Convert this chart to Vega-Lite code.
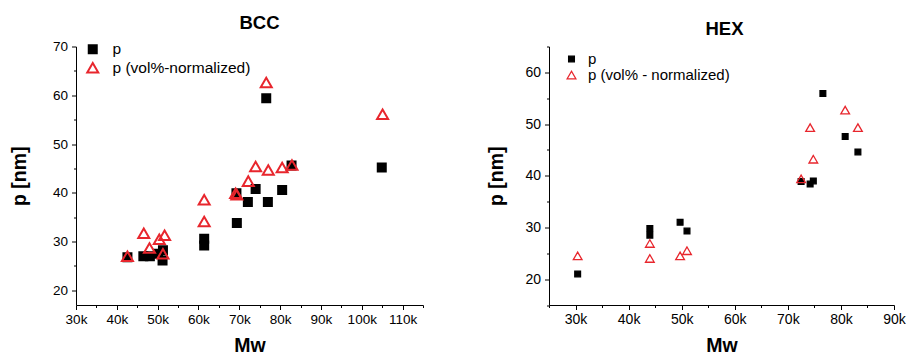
{
  "$schema": "https://vega.github.io/schema/vega-lite/v6.json",
  "padding": {"left": 9, "top": 13.5, "right": 0, "bottom": 0},
  "background": "white",
  "spacing": 62,
  "config": {
    "view": {"stroke": null},
    "font": "Liberation Sans",
    "axis": {"grid": false, "labelFont": "Liberation Sans", "labelFontSize": 13.5, "labelColor": "#000", "tickColor": "#000", "domainColor": "#000", "titleFont": "Liberation Sans", "titleFontSize": 19.5, "titleFontWeight": "bold", "titleColor": "#000", "labelPadding": 3, "labelFlush": false},
    "title": {"font": "Liberation Sans", "fontSize": 18.5, "fontWeight": "bold", "color": "#000", "anchor": "middle"},
    "legend": {"labelFont": "Liberation Sans", "labelColor": "#000", "padding": 0}
  },
  "datasets": {
    "bcc": [
      {"Mw": 42600, "p": 26.8, "series": "p"},
      {"Mw": 46500, "p": 27.0, "series": "p"},
      {"Mw": 48100, "p": 27.0, "series": "p"},
      {"Mw": 50100, "p": 27.5, "series": "p"},
      {"Mw": 51300, "p": 28.2, "series": "p"},
      {"Mw": 51200, "p": 26.1, "series": "p"},
      {"Mw": 61400, "p": 30.6, "series": "p"},
      {"Mw": 61400, "p": 29.2, "series": "p"},
      {"Mw": 69300, "p": 39.9, "series": "p"},
      {"Mw": 69400, "p": 33.8, "series": "p"},
      {"Mw": 72100, "p": 38.1, "series": "p"},
      {"Mw": 74000, "p": 40.8, "series": "p"},
      {"Mw": 76600, "p": 59.4, "series": "p"},
      {"Mw": 77000, "p": 38.1, "series": "p"},
      {"Mw": 80500, "p": 40.6, "series": "p"},
      {"Mw": 82800, "p": 45.6, "series": "p"},
      {"Mw": 104900, "p": 45.2, "series": "p"},
      {"Mw": 42600, "p": 27.0, "series": "p (vol%-normalized)"},
      {"Mw": 46600, "p": 31.7, "series": "p (vol%-normalized)"},
      {"Mw": 48000, "p": 28.7, "series": "p (vol%-normalized)"},
      {"Mw": 50400, "p": 30.5, "series": "p (vol%-normalized)"},
      {"Mw": 51700, "p": 31.3, "series": "p (vol%-normalized)"},
      {"Mw": 51300, "p": 27.5, "series": "p (vol%-normalized)"},
      {"Mw": 61400, "p": 38.6, "series": "p (vol%-normalized)"},
      {"Mw": 61400, "p": 34.1, "series": "p (vol%-normalized)"},
      {"Mw": 69100, "p": 39.9, "series": "p (vol%-normalized)"},
      {"Mw": 69400, "p": 39.6, "series": "p (vol%-normalized)"},
      {"Mw": 72200, "p": 42.4, "series": "p (vol%-normalized)"},
      {"Mw": 74000, "p": 45.4, "series": "p (vol%-normalized)"},
      {"Mw": 76600, "p": 62.6, "series": "p (vol%-normalized)"},
      {"Mw": 77100, "p": 44.7, "series": "p (vol%-normalized)"},
      {"Mw": 80500, "p": 45.2, "series": "p (vol%-normalized)"},
      {"Mw": 82900, "p": 45.7, "series": "p (vol%-normalized)"},
      {"Mw": 105100, "p": 56.1, "series": "p (vol%-normalized)"}
    ],
    "hex": [
      {"Mw": 30400, "p": 21.0, "series": "p"},
      {"Mw": 44000, "p": 29.8, "series": "p"},
      {"Mw": 44000, "p": 28.5, "series": "p"},
      {"Mw": 49700, "p": 31.0, "series": "p"},
      {"Mw": 51000, "p": 29.3, "series": "p"},
      {"Mw": 72500, "p": 38.9, "series": "p"},
      {"Mw": 74200, "p": 38.4, "series": "p"},
      {"Mw": 74800, "p": 39.0, "series": "p"},
      {"Mw": 76600, "p": 55.9, "series": "p"},
      {"Mw": 80800, "p": 47.6, "series": "p"},
      {"Mw": 83200, "p": 44.6, "series": "p"},
      {"Mw": 30400, "p": 24.5, "series": "p (vol% - normalized)"},
      {"Mw": 44000, "p": 26.9, "series": "p (vol% - normalized)"},
      {"Mw": 44000, "p": 24.0, "series": "p (vol% - normalized)"},
      {"Mw": 49700, "p": 24.5, "series": "p (vol% - normalized)"},
      {"Mw": 51000, "p": 25.5, "series": "p (vol% - normalized)"},
      {"Mw": 72500, "p": 39.4, "series": "p (vol% - normalized)"},
      {"Mw": 74200, "p": 49.3, "series": "p (vol% - normalized)"},
      {"Mw": 74800, "p": 43.2, "series": "p (vol% - normalized)"},
      {"Mw": 80800, "p": 52.7, "series": "p (vol% - normalized)"},
      {"Mw": 83200, "p": 49.3, "series": "p (vol% - normalized)"}
    ]
  },
  "hconcat": [
    {
      "title": {"text": "BCC", "offset": 7, "dx": 10},
      "width": 347,
      "height": 258.5,
      "data": {"name": "bcc"},
      "layer": [
        {
          "mark": {"type": "point", "opacity": 0},
          "encoding": {
            "x": {"field": "Mw", "type": "quantitative", "scale": {"domain": [30000, 115000], "nice": false, "zero": false}, "axis": {"orient": "bottom", "values": [35000, 45000, 55000, 65000, 75000, 85000, 95000, 105000, 115000], "labels": false, "domain": false, "tickSize": 2.5, "title": null}},
            "y": {"field": "p", "type": "quantitative", "scale": {"domain": [17, 70], "nice": false, "zero": false}, "axis": {"orient": "left", "values": [25, 35, 45, 55, 65], "labels": false, "domain": false, "tickSize": 2.5, "title": null}}
          }
        },
        {
          "mark": {"type": "point", "opacity": 1, "strokeWidth": 2},
          "encoding": {
            "x": {"field": "Mw", "type": "quantitative", "scale": {"domain": [30000, 115000], "nice": false, "zero": false}, "axis": {"orient": "bottom", "values": [30000, 40000, 50000, 60000, 70000, 80000, 90000, 100000, 110000], "format": "~s", "tickSize": 4.5, "labelFontSize": 13.5, "labelFlush": false, "title": "Mᴡ", "titlePadding": 10}},
            "y": {"field": "p", "type": "quantitative", "scale": {"domain": [17, 70], "nice": false, "zero": false}, "axis": {"orient": "left", "values": [20, 30, 40, 50, 60, 70], "tickSize": 4.5, "labelPadding": 4, "labelFontSize": 13.5, "title": "p [nm]", "titlePadding": 23}},
            "shape": {"field": "series", "type": "nominal", "scale": {"domain": ["p", "p (vol%-normalized)"], "range": ["square", "triangle-up"]}, "legend": {"title": null, "orient": "none", "legendX": 9, "legendY": -5, "labelFontSize": 15.5, "labelOffset": 12, "rowPadding": -0.5, "symbolStrokeWidth": 2}},
            "fill": {"field": "series", "type": "nominal", "scale": {"domain": ["p", "p (vol%-normalized)"], "range": ["#000000", "transparent"]}, "legend": {"title": null, "orient": "none", "legendX": 9, "legendY": -5, "labelFontSize": 15.5, "labelOffset": 12, "rowPadding": -0.5, "symbolStrokeWidth": 2}},
            "stroke": {"field": "series", "type": "nominal", "scale": {"domain": ["p", "p (vol%-normalized)"], "range": ["#000000", "#e8262d"]}, "legend": {"title": null, "orient": "none", "legendX": 9, "legendY": -5, "labelFontSize": 15.5, "labelOffset": 12, "rowPadding": -0.5, "symbolStrokeWidth": 2}},
            "size": {"field": "series", "type": "nominal", "scale": {"domain": ["p", "p (vol%-normalized)"], "range": [64, 121]}, "legend": {"title": null, "orient": "none", "legendX": 9, "legendY": -5, "labelFontSize": 15.5, "labelOffset": 12, "rowPadding": -0.5, "symbolStrokeWidth": 2}}
          }
        }
      ],
      "resolve": {"axis": {"x": "independent", "y": "independent"}}
    },
    {
      "title": {"text": "HEX", "offset": 8, "dx": 3},
      "width": 345,
      "height": 258.5,
      "data": {"name": "hex"},
      "layer": [
        {
          "mark": {"type": "point", "opacity": 0},
          "encoding": {
            "x": {"field": "Mw", "type": "quantitative", "scale": {"domain": [25000, 90000], "nice": false, "zero": false}, "axis": {"orient": "bottom", "values": [25000, 35000, 45000, 55000, 65000, 75000, 85000], "labels": false, "domain": false, "tickSize": 2.5, "title": null}},
            "y": {"field": "p", "type": "quantitative", "scale": {"domain": [15, 65], "nice": false, "zero": false}, "axis": {"orient": "left", "values": [15, 25, 35, 45, 55, 65], "labels": false, "domain": false, "tickSize": 2.5, "title": null}}
          }
        },
        {
          "mark": {"type": "point", "opacity": 1, "strokeWidth": 1.3},
          "encoding": {
            "x": {"field": "Mw", "type": "quantitative", "scale": {"domain": [25000, 90000], "nice": false, "zero": false}, "axis": {"orient": "bottom", "values": [30000, 40000, 50000, 60000, 70000, 80000, 90000], "format": "~s", "tickSize": 4.5, "labelFontSize": 14, "labelFlush": false, "title": "Mᴡ", "titlePadding": 10}},
            "y": {"field": "p", "type": "quantitative", "scale": {"domain": [15, 65], "nice": false, "zero": false}, "axis": {"orient": "left", "values": [20, 30, 40, 50, 60], "tickSize": 4.5, "labelPadding": 4, "labelFontSize": 14, "title": "p [nm]", "titlePadding": 18}},
            "shape": {"field": "series", "type": "nominal", "scale": {"domain": ["p", "p (vol% - normalized)"], "range": ["square", "triangle-up"]}, "legend": {"title": null, "orient": "none", "legendX": 15, "legendY": 5, "labelFontSize": 15, "labelOffset": 9, "rowPadding": 0, "symbolStrokeWidth": 1.3}},
            "fill": {"field": "series", "type": "nominal", "scale": {"domain": ["p", "p (vol% - normalized)"], "range": ["#000000", "transparent"]}, "legend": {"title": null, "orient": "none", "legendX": 15, "legendY": 5, "labelFontSize": 15, "labelOffset": 9, "rowPadding": 0, "symbolStrokeWidth": 1.3}},
            "stroke": {"field": "series", "type": "nominal", "scale": {"domain": ["p", "p (vol% - normalized)"], "range": ["#000000", "#e8262d"]}, "legend": {"title": null, "orient": "none", "legendX": 15, "legendY": 5, "labelFontSize": 15, "labelOffset": 9, "rowPadding": 0, "symbolStrokeWidth": 1.3}},
            "size": {"field": "series", "type": "nominal", "scale": {"domain": ["p", "p (vol% - normalized)"], "range": [33, 76]}, "legend": {"title": null, "orient": "none", "legendX": 15, "legendY": 5, "labelFontSize": 15, "labelOffset": 9, "rowPadding": 0, "symbolStrokeWidth": 1.3}}
          }
        }
      ],
      "resolve": {"axis": {"x": "independent", "y": "independent"}}
    }
  ],
  "resolve": {"scale": {"shape": "independent", "fill": "independent", "stroke": "independent", "size": "independent"}, "legend": {"shape": "independent", "fill": "independent", "stroke": "independent", "size": "independent"}}
}
